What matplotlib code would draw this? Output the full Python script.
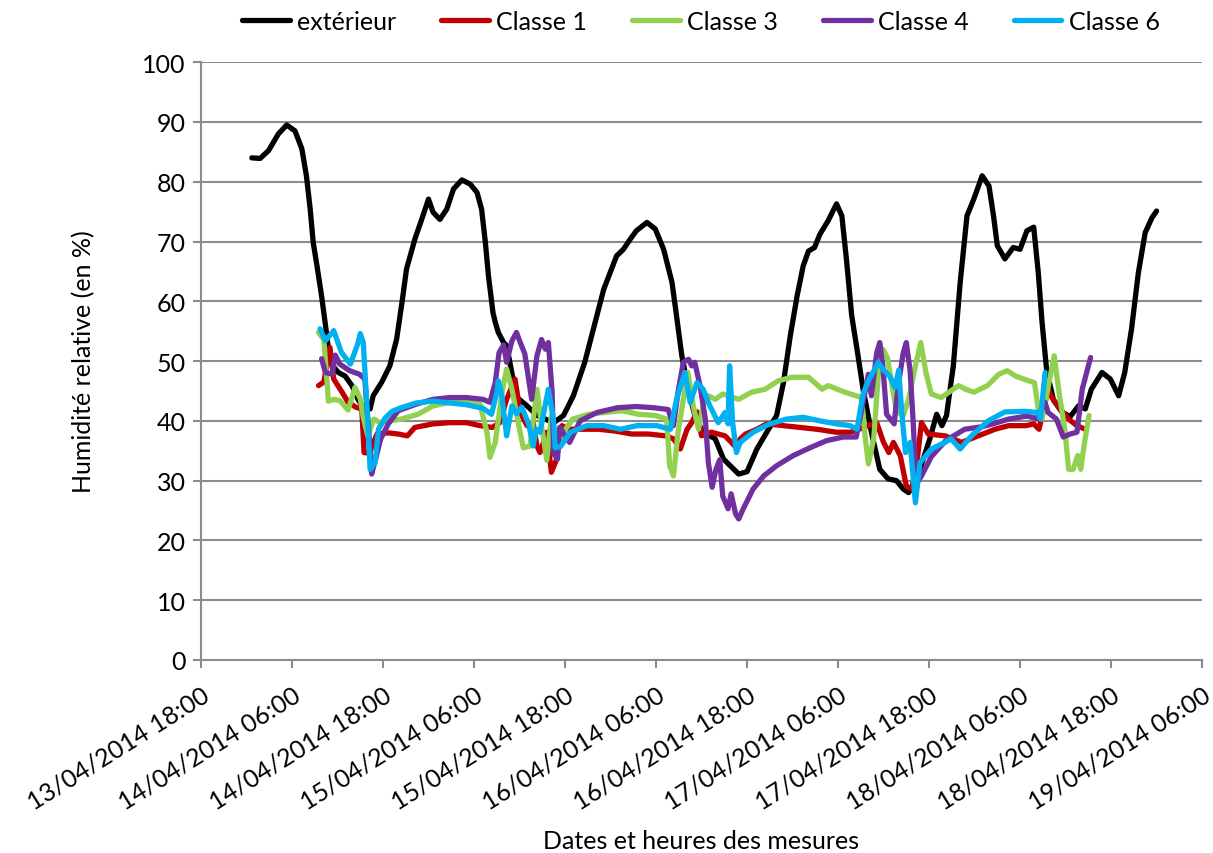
import matplotlib
matplotlib.use('Agg')
import matplotlib.pyplot as plt
import matplotlib.dates as mdates
import pandas as pd

plt.rcParams['font.family'] = ['Lato', 'DejaVu Sans']

# time axis: hours after 13/04/2014 18:00
start = pd.Timestamp('2014-04-13 18:00')

ext_h = [6.7, 7.8, 8.9, 10.2, 11.3, 12.4, 13.3, 13.9, 14.4, 14.8, 15.3, 15.9, 16.6, 17.0, 18.1, 19.0,
         19.9, 20.7, 21.5, 22.3, 22.7, 23.8, 24.9, 25.8, 26.5, 27.1, 28.2, 29.1, 30.0, 30.6, 31.5, 32.4,
         33.3, 34.4, 35.5, 36.4, 37.0, 37.5, 37.9, 38.5, 38.8, 39.2, 39.9, 40.3, 41.6, 43.0, 44.3, 46.5,
         47.8, 49.1, 50.6, 52.2, 53.1, 54.8, 55.7, 56.6, 57.4, 58.8, 59.9, 61.0, 62.1, 62.7, 63.4, 64.3,
         65.2, 66.2, 67.8, 68.9, 70.9, 72.0, 73.3, 74.6, 75.9, 76.8, 77.7, 78.6, 79.4, 80.1, 80.9, 81.6,
         82.7, 83.8, 84.5, 85.1, 85.8, 86.5, 87.3, 88.4, 89.5, 90.6, 91.7, 92.6, 93.3, 94.0, 94.8, 96.1,
         97.0, 97.7, 98.3, 99.2, 100.1, 101.0, 101.9, 103.0, 103.9, 104.5, 105.0, 106.0, 107.1, 108.0,
         108.9, 109.8, 110.4, 110.9, 111.5, 112.4, 113.5, 114.6, 115.7, 116.6, 117.4, 118.8, 119.9,
         121.0, 121.8, 122.7, 123.6, 124.5, 125.4, 126.0]
ext_rh = [84.0, 83.9, 85.2, 88.0, 89.5, 88.5, 85.5, 81.0, 75.4, 69.8, 65.9, 60.9, 54.2, 49.8, 48.1, 47.5,
          45.9, 43.6, 42.0, 42.0, 44.2, 46.4, 49.2, 53.7, 59.8, 65.4, 70.4, 73.7, 77.1, 74.9, 73.7, 75.4,
          78.8, 80.3, 79.6, 78.2, 75.4, 69.8, 64.3, 58.1, 56.5, 54.8, 53.1, 52.6, 44.0, 42.5, 40.9, 39.7,
          40.9, 44.2, 49.8, 57.6, 62.0, 67.6, 68.7, 70.4, 71.8, 73.2, 72.1, 68.7, 63.2, 57.6, 50.9, 45.0,
          40.5, 38.1, 37.0, 33.6, 31.1, 31.5, 35.3, 38.1, 40.9, 46.4, 54.2, 60.9, 65.9, 68.4, 69.0, 71.2,
          73.5, 76.3, 74.3, 67.1, 57.6, 52.0, 45.3, 38.1, 31.9, 30.3, 30.0, 28.6, 28.0, 29.5, 31.9, 37.0,
          41.1, 39.2, 40.9, 49.2, 63.1, 74.3, 77.1, 81.0, 79.3, 74.3, 69.3, 67.1, 69.0, 68.7,
          71.8, 72.4, 64.8, 56.5, 48.5, 43.5, 41.5, 40.7, 42.5, 42.0, 45.3, 48.1, 47.0,
          44.2, 48.1, 55.4, 64.8, 71.5, 74.0, 75.1]

c1_h = [15.5, 16.2, 17.0, 17.5, 18.6, 19.4, 20.4, 21.2, 21.5, 22.2, 23.2, 24.7, 26.0, 27.2, 28.2, 30.6,
        32.8, 35.0, 36.8, 38.4, 39.4, 40.3, 41.4, 42.1, 43.0, 43.8, 44.3, 44.7, 45.6, 46.2, 46.9, 47.3,
        47.6, 48.5, 50.2, 52.4, 54.6, 56.8, 59.0, 61.2, 62.3, 63.2, 64.1, 64.7, 65.4, 66.0, 67.3, 69.1,
        70.6, 71.1, 71.8, 73.3, 74.6, 76.8, 79.0, 81.2, 83.8, 85.7, 88.0, 89.1, 90.0, 90.7, 91.3, 92.2,
        93.0, 93.7, 94.4, 95.0, 95.9, 98.1, 100.3, 102.5, 104.7, 106.5, 108.8, 109.8, 110.5, 111.7,
        112.2, 113.3, 114.4, 115.5, 116.6]
c1_rh = [45.9, 46.5, 52.3, 47.0, 44.8, 43.1, 42.3, 42.0, 34.7, 34.6, 37.8, 38.0, 37.8, 37.5, 38.9, 39.5,
         39.7, 39.7, 39.2, 38.9, 39.7, 43.6, 47.0, 41.4, 39.2, 39.7, 35.8, 34.7, 38.1, 31.4, 33.6, 37.5,
         39.2, 38.6, 38.6, 38.6, 38.3, 37.8, 37.8, 37.5, 37.0, 35.3, 38.6, 39.7, 41.5, 37.5, 38.1, 37.5,
         35.5, 37.0, 37.8, 38.6, 39.5, 39.2, 38.9, 38.6, 38.1, 38.1, 39.2, 39.7, 36.4, 34.7, 36.4, 34.2,
         29.1, 28.6, 33.0, 39.7, 37.8, 37.5, 36.4, 37.5, 38.6, 39.2, 39.2, 39.5, 38.6, 45.3,
         43.9, 42.0, 40.3, 39.2, 38.6]

c3_h = [15.5, 16.2, 16.8, 17.5, 18.3, 19.4, 20.3, 21.0, 21.4, 22.0, 22.8, 23.6, 26.4, 28.6, 30.6, 32.8,
        35.0, 36.8, 37.7, 38.1, 38.8, 39.7, 40.3, 41.0, 41.9, 42.5, 43.4, 44.3, 44.9, 45.6, 46.2, 46.9,
        47.8, 49.0, 51.1, 53.2, 55.5, 57.7, 59.9, 61.4, 61.8, 62.3, 62.9, 63.6, 64.2, 64.9, 65.6, 66.2,
        66.9, 67.8, 68.8, 70.9, 72.6, 74.4, 76.1, 77.9, 80.1, 81.9, 82.7, 84.9, 87.1, 87.6, 88.0, 88.7,
        89.3, 89.9, 90.5, 91.7, 92.6, 93.3, 94.2, 94.9, 95.6, 96.3, 97.6, 99.2, 99.9, 100.8, 101.9,
        103.7, 105.2, 106.3, 107.4, 108.9, 109.9, 110.4, 110.9, 112.5, 113.2, 113.9, 114.4, 115.0,
        115.6, 116.0, 116.5, 117.1]
c3_rh = [54.8, 53.6, 43.3, 43.6, 43.4, 41.8, 45.6, 43.7, 40.6, 37.5, 40.3, 39.7, 40.3, 41.1, 42.5, 43.1,
         43.1, 42.8, 38.1, 33.9, 36.4, 44.8, 48.7, 45.3, 39.2, 35.5, 35.8, 45.3, 39.2, 33.4, 40.9, 35.8,
         38.1, 40.3, 41.1, 41.4, 41.7, 41.1, 40.9, 40.3, 32.5, 30.8, 38.1, 43.6, 48.1, 42.5, 38.6, 42.5,
         44.2, 43.6, 44.5, 43.6, 44.8, 45.3, 46.7, 47.3, 47.3, 45.3, 45.9, 44.8, 43.9, 37.0, 32.8, 37.0,
         47.5, 52.0, 50.6, 41.6, 40.9, 43.6, 49.2, 53.1, 48.0, 44.5, 43.9, 45.3, 45.9, 45.3, 44.8,
         45.9, 47.8, 48.4, 47.5, 46.8, 46.4, 42.0, 40.3, 50.9, 44.2, 38.6, 31.9, 31.9,
         34.2, 31.9, 36.4, 40.9]

c4_h = [15.9, 16.4, 17.3, 17.7, 18.3, 19.6, 20.9, 21.6, 22.1, 22.5, 23.0, 23.7, 24.7, 26.0, 28.4, 30.6,
        32.8, 35.0, 37.2, 38.1, 38.8, 39.3, 39.9, 40.3, 41.0, 41.6, 42.1, 42.7, 43.6, 44.3, 44.9, 45.4,
        45.8, 46.3, 46.5, 47.0, 47.3, 48.6, 50.0, 52.2, 54.9, 57.4, 59.7, 61.6, 62.3, 62.9, 63.6, 64.3,
        64.7, 65.1, 65.8, 66.5, 66.9, 67.4, 67.9, 68.4, 68.8, 69.5, 69.9, 70.5, 70.9, 71.5, 72.8, 74.2,
        75.9, 78.1, 80.3, 82.5, 84.7, 86.4, 87.3, 88.0, 88.4, 89.1, 89.5, 89.9, 90.4, 91.4, 91.9, 92.6,
        93.0, 93.5, 93.9, 94.3, 95.0, 96.3, 98.2, 100.7, 102.9, 104.4, 106.5, 108.9, 110.2, 111.3,
        111.7, 112.8, 113.7, 114.6, 115.5, 116.2, 117.3]
c4_rh = [50.4, 48.1, 47.8, 51.0, 49.5, 48.4, 47.8, 47.0, 38.6, 31.1, 33.5, 37.0, 39.5, 41.7, 42.8, 43.6,
         43.9, 43.9, 43.6, 43.1, 46.4, 51.4, 52.7, 49.8, 53.4, 54.8, 53.1, 51.2, 43.6, 50.9, 53.6, 52.0,
         53.1, 44.8, 34.5, 33.6, 38.9, 36.4, 40.0, 41.4, 42.2, 42.4, 42.2, 41.9, 39.2, 44.8, 49.8, 50.3,
         49.2, 49.8, 45.9, 40.3, 33.0, 28.9, 31.9, 33.5, 27.4, 25.3, 27.8, 24.4, 23.6, 25.3, 28.6, 30.8,
         32.5, 34.2, 35.5, 36.7, 37.3, 37.3, 43.1, 47.8, 44.2, 51.4, 53.1, 49.2, 41.1, 39.5, 45.6, 51.4,
         53.1, 48.4, 40.0, 29.4, 30.8, 34.0, 36.7, 38.6, 39.0, 39.5, 40.3, 40.8, 40.4, 43.1,
         41.4, 40.3, 37.3, 37.8, 38.1, 45.3, 50.6]

c6_h = [15.7, 16.4, 17.5, 18.5, 19.7, 20.7, 21.0, 21.4, 21.9, 22.3, 22.95, 23.4, 24.3, 25.2, 26.4, 28.4,
        30.6, 32.8, 35.0, 37.2, 38.3, 39.0, 39.2, 39.6, 40.3, 41.0, 41.6, 42.3, 43.2, 43.8, 44.2, 44.7,
        45.8, 46.5, 46.7, 47.4, 48.7, 50.9, 53.1, 55.3, 57.5, 60.1, 61.9, 62.7, 63.8, 64.5, 65.4, 66.2,
        67.1, 68.2, 69.1, 69.5, 69.7, 70.1, 70.6, 71.1, 72.8, 75.0, 77.2, 79.4, 81.6, 83.8, 85.6, 86.5,
        87.3, 88.0, 88.6, 89.3, 90.0, 90.8, 91.5, 92.0, 92.4, 92.9, 93.5, 94.2, 94.8, 96.3, 98.1, 98.9,
        100.1, 101.6, 103.8, 106.0, 108.6, 110.3, 110.7, 111.3]
c6_rh = [55.4, 53.4, 55.1, 51.5, 49.5, 53.0, 54.6, 53.1, 42.0, 31.9, 33.0, 38.6, 40.5, 41.6, 42.2, 43.0,
         43.3, 43.0, 42.7, 42.1, 41.1, 44.7, 46.7, 44.8, 37.5, 42.5, 41.2, 42.3, 39.5, 35.8, 38.6, 38.1,
         45.3, 40.0, 35.5, 35.7, 38.1, 39.2, 39.2, 38.6, 39.2, 39.2, 38.6, 43.6, 48.1, 43.1, 46.4, 45.3,
         42.5, 39.7, 41.4, 39.5, 49.2, 39.7, 34.7, 36.4, 38.1, 39.5, 40.3, 40.6, 40.0, 39.5, 39.2, 38.6,
         44.5, 46.7, 48.1, 49.8, 48.5, 47.5, 45.6, 48.5, 41.4, 34.7, 36.4, 26.3, 33.0, 35.3, 36.4, 37.0,
         35.3, 37.5, 40.0, 41.5, 41.6, 41.4, 40.3, 48.1]

series = [
    ('extérieur', ext_h, ext_rh, '#000000'),
    ('Classe 1', c1_h, c1_rh, '#C00000'),
    ('Classe 3', c3_h, c3_rh, '#92D050'),
    ('Classe 4', c4_h, c4_rh, '#7030A0'),
    ('Classe 6', c6_h, c6_rh, '#00B0F0'),
]

fig = plt.figure(figsize=(12.13, 8.54), dpi=100)
ax = fig.add_axes([0.1657, 0.226, 0.8253, 0.7])

for name, hours, rh, color in series:
    times = start + pd.to_timedelta(hours, unit='h')
    ax.plot(times, rh, color=color, lw=3.8, label=name,
            solid_joinstyle='round', solid_capstyle='round')

grey = '#8C8C8C'
ax.set_ylim(0, 100)
ax.set_yticks(range(0, 101, 10))
ax.set_xlim(start, pd.Timestamp('2014-04-19 06:00'))
ax.xaxis.set_major_locator(mdates.HourLocator(byhour=[6, 18]))
ax.xaxis.set_major_formatter(mdates.DateFormatter('%d/%m/%Y %H:%M'))
ax.grid(axis='y', color=grey, lw=1.5)
ax.set_axisbelow(True)

for side in ['top', 'right']:
    ax.spines[side].set_visible(False)
for side in ['left', 'bottom']:
    ax.spines[side].set_color(grey)
    ax.spines[side].set_linewidth(1.5)

ax.tick_params(axis='both', colors=grey, labelcolor='black', labelsize=18, width=1.5, length=6)
ax.tick_params(axis='y', pad=5)
ax.tick_params(axis='x', pad=10)
for lbl in ax.get_xticklabels():
    lbl.set_rotation(32)
    lbl.set_ha('right')
    lbl.set_rotation_mode('anchor')

ax.set_ylabel('Humidité relative (en %)', fontsize=18, labelpad=34)
ax.set_xlabel('Dates et heures des mesures', fontsize=18, labelpad=12)

fig.legend(loc='center', bbox_to_anchor=(0.578, 0.974), ncol=5, frameon=False, fontsize=18,
           handlelength=1.9, handletextpad=0.3, columnspacing=1.8)

fig.savefig('out.png', dpi=100)
